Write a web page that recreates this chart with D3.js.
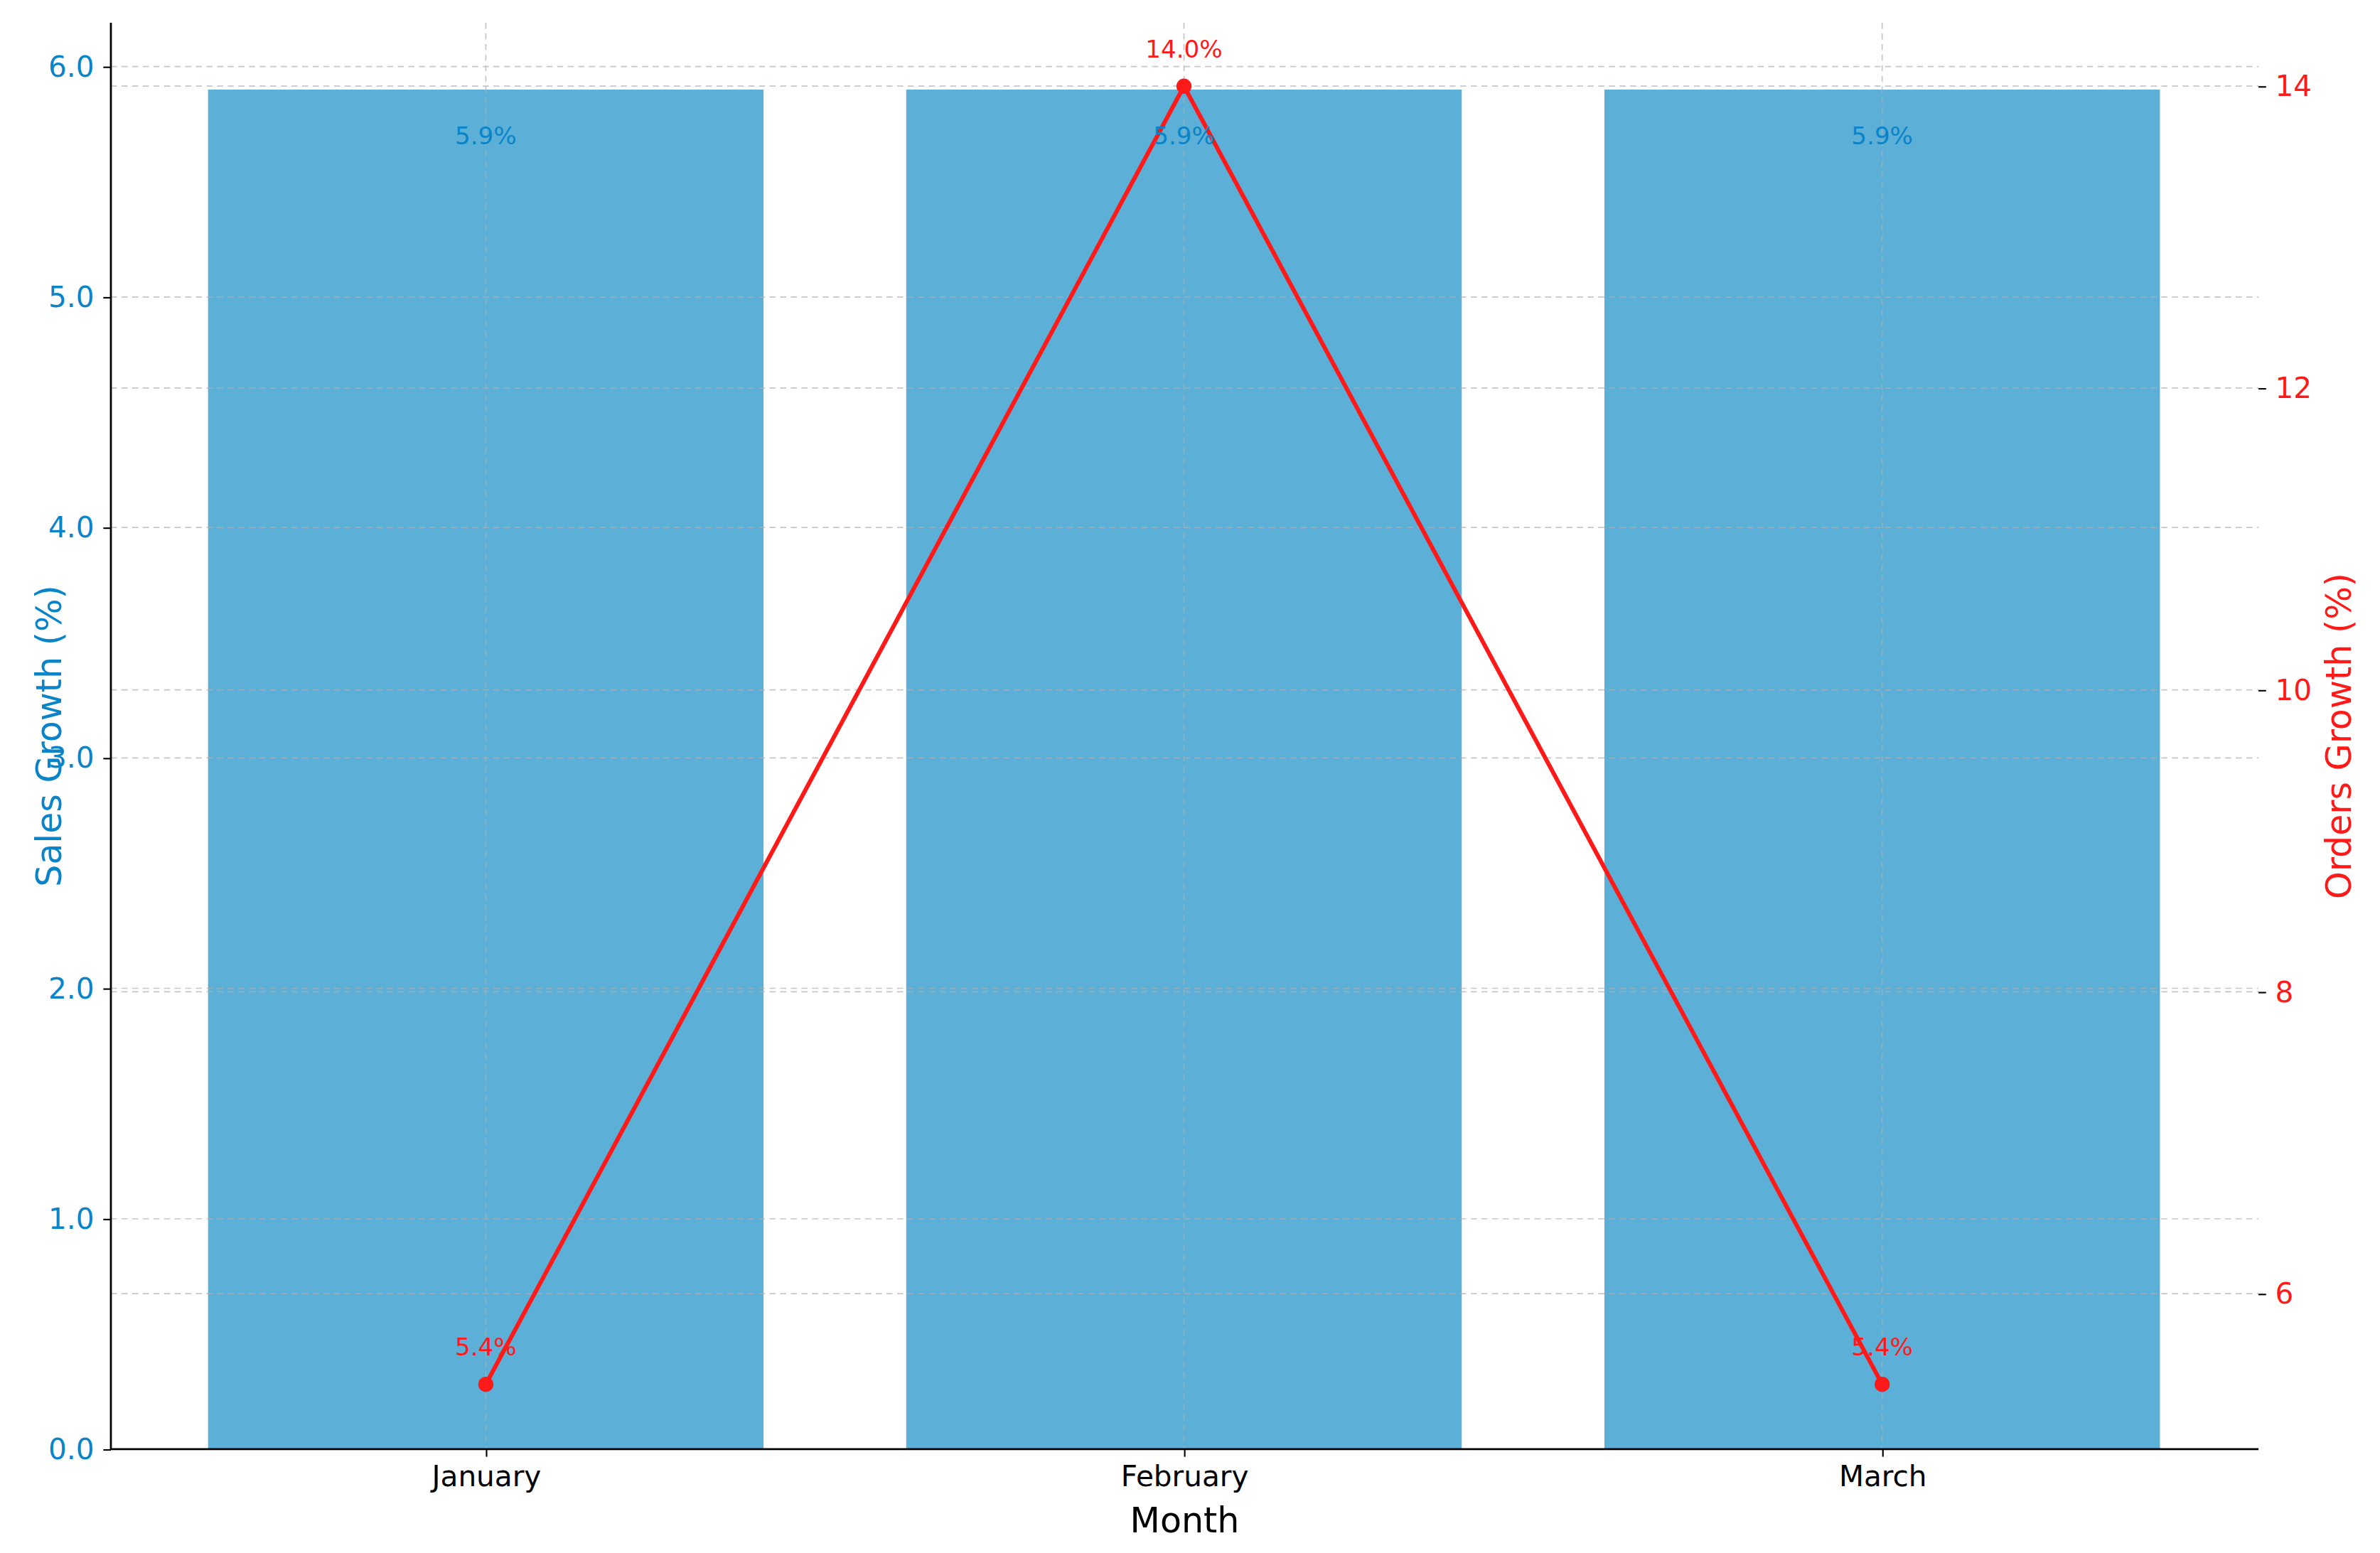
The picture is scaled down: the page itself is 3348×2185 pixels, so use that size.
<!DOCTYPE html>
<html><head><meta charset="utf-8">
<script src="https://cdn.jsdelivr.net/npm/d3@7"></script>
<style>body{margin:0;background:#fff}svg{display:block}text{font-family:"DejaVu Sans",sans-serif}</style>
</head><body><svg id="chart"></svg>
<script>
var months = ["January", "February", "March"];
var salesGrowth = [5.9, 5.9, 5.9];
var ordersGrowth = [5.4, 14.0, 5.4];
var leftTicks = [0, 1, 2, 3, 4, 5, 6];
var rightTicks = [6, 8, 10, 12, 14];

var W = 1568, H = 1023.4;
var svg = d3.select("#chart").attr("width", 3348).attr("height", 2185)
  .attr("viewBox", "0 0 " + W + " " + H);
var pLeft = 73, pRight = 1488, pTop = 15, pBottom = 955;
var blue = "#0a84c8", red = "#ff1a1a";

var x = d3.scaleLinear().domain([-0.537, 2.539]).range([pLeft, pRight]);
var bw = 366 / 460;
var yL = d3.scaleLinear().domain([0, 6.19]).range([pBottom, pTop]);
var yR = d3.scaleLinear().domain([4.97, 14.42]).range([pBottom, pTop]);

// bars
svg.selectAll("rect.bar").data(salesGrowth).enter().append("rect")
  .attr("x", function(d, i){ return x(i - bw / 2); })
  .attr("width", x(bw) - x(0))
  .attr("y", function(d){ return yL(d); })
  .attr("height", function(d){ return yL(0) - yL(d); })
  .attr("fill", "#4aa6d2").attr("opacity", 0.9);

// grids
var g = svg.append("g").attr("stroke", "#b0b0b0").attr("stroke-width", 0.8)
  .attr("stroke-dasharray", "4,3").attr("opacity", 0.7);
leftTicks.forEach(function(t){
  g.append("line").attr("x1", pLeft).attr("x2", pRight).attr("y1", yL(t)).attr("y2", yL(t));
});
rightTicks.forEach(function(t){
  g.append("line").attr("x1", pLeft).attr("x2", pRight).attr("y1", yR(t)).attr("y2", yR(t));
});
months.forEach(function(m, i){
  g.append("line").attr("x1", x(i)).attr("x2", x(i)).attr("y1", pTop).attr("y2", pBottom);
});

// axes
var axL = svg.append("g").attr("transform", "translate(" + pLeft + ",0)")
  .call(d3.axisLeft(yL).tickValues(leftTicks).tickSize(5).tickPadding(6));
axL.selectAll("text").attr("fill", blue).attr("font-size", 19);
axL.select(".domain").attr("stroke", "#000").attr("stroke-width", 1.3).attr("d", "M0," + pTop + "V" + pBottom);
var axR = svg.append("g").attr("transform", "translate(" + pRight + ",0)")
  .call(d3.axisRight(yR).tickValues(rightTicks).tickSize(5).tickPadding(6));
axR.selectAll("text").attr("fill", red).attr("font-size", 19);
axR.select(".domain").remove();
var axB = svg.append("g").attr("transform", "translate(0," + pBottom + ")")
  .call(d3.axisBottom(x).tickValues([0, 1, 2]).tickFormat(function(d){ return months[d]; }).tickSize(5).tickPadding(6));
axB.selectAll("text").attr("fill", "#000").attr("font-size", 19);
axB.select(".domain").attr("stroke", "#000").attr("stroke-width", 1.3).attr("d", "M" + pLeft + ",0H" + pRight);

// line
svg.append("path").datum(ordersGrowth)
  .attr("d", d3.line().x(function(d, i){ return x(i); }).y(function(d){ return yR(d); }))
  .attr("fill", "none").attr("stroke", red).attr("stroke-width", 2.8);
svg.selectAll("circle.pt").data(ordersGrowth).enter().append("circle")
  .attr("cx", function(d, i){ return x(i); }).attr("cy", function(d){ return yR(d); })
  .attr("r", 5).attr("fill", red);

// labels
svg.selectAll("text.bl").data(salesGrowth).enter().append("text")
  .attr("x", function(d, i){ return x(i); }).attr("y", function(d){ return yL(d) + 36; })
  .attr("text-anchor", "middle").attr("fill", blue).attr("font-size", 16)
  .text(function(d){ return d.toFixed(1) + "%"; });
svg.selectAll("text.ol").data(ordersGrowth).enter().append("text")
  .attr("x", function(d, i){ return x(i); }).attr("y", function(d){ return yR(d) - 19; })
  .attr("text-anchor", "middle").attr("fill", red).attr("font-size", 16)
  .text(function(d){ return d.toFixed(1) + "%"; });

// titles
svg.append("text").attr("x", (pLeft + pRight) / 2).attr("y", 1010).attr("text-anchor", "middle")
  .attr("font-size", 23).attr("fill", "#000").text("Month");
svg.append("text").attr("transform", "translate(40," + (pTop + pBottom) / 2 + ") rotate(-90)")
  .attr("text-anchor", "middle").attr("font-size", 23).attr("fill", blue).text("Sales Growth (%)");
svg.append("text").attr("transform", "translate(1549," + (pTop + pBottom) / 2 + ") rotate(-90)")
  .attr("text-anchor", "middle").attr("font-size", 23).attr("fill", red).text("Orders Growth (%)");
</script></body></html>
